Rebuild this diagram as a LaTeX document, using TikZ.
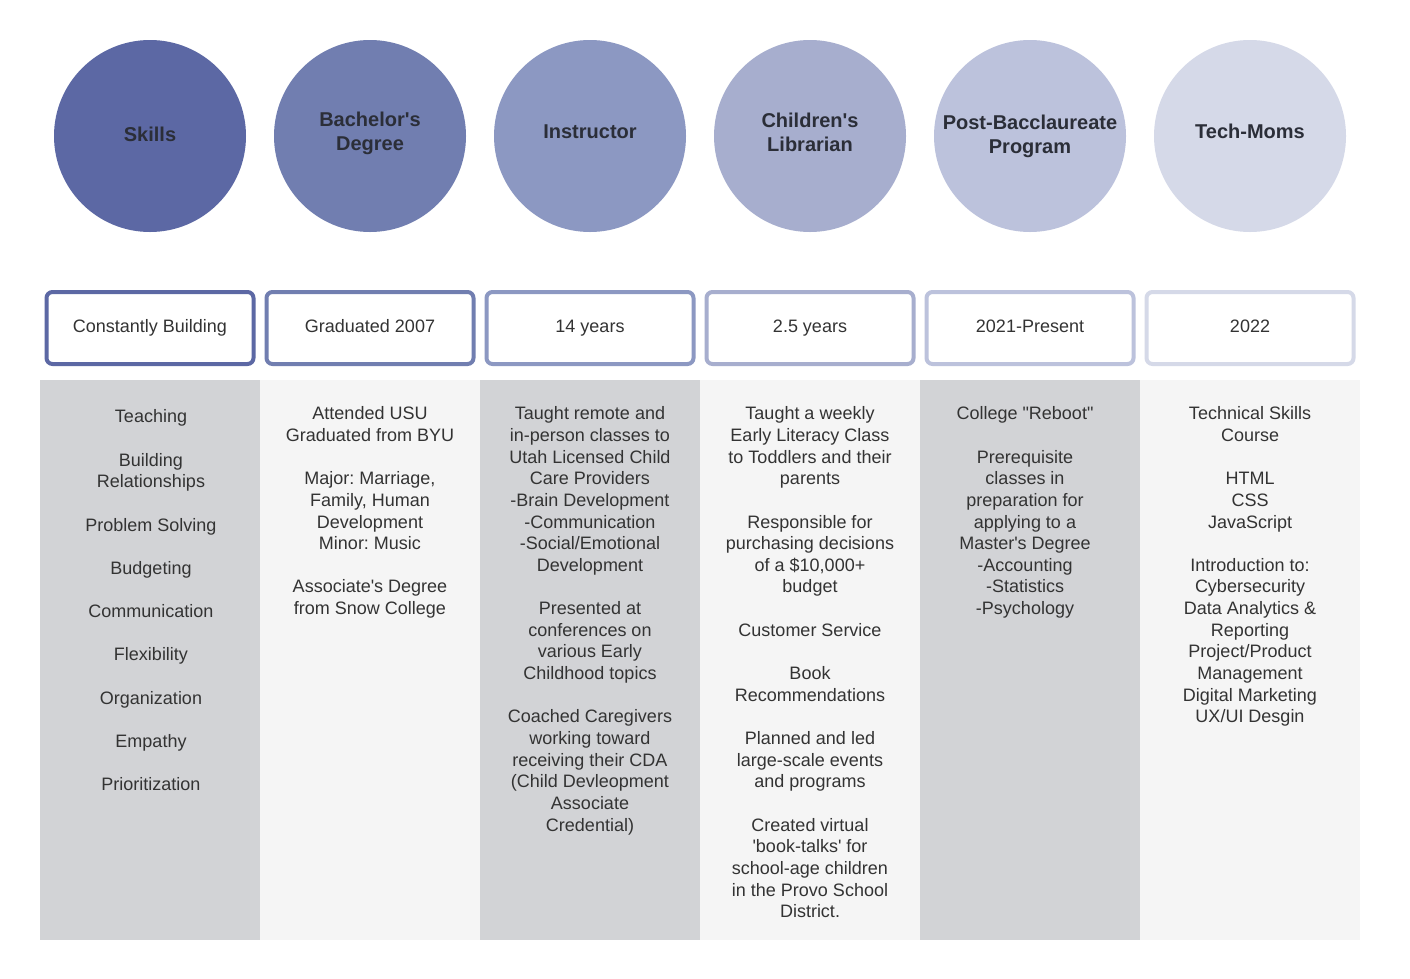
\documentclass[tikz,border=0pt]{standalone}
\usepackage{fontspec}
\setmainfont{Liberation Sans}[Ligatures=TeXOff]
\frenchspacing
\definecolor{cA}{HTML}{5C68A4}
\definecolor{cB}{HTML}{717EB0}
\definecolor{cC}{HTML}{8C98C2}
\definecolor{cD}{HTML}{A7AECE}
\definecolor{cE}{HTML}{BCC2DC}
\definecolor{cF}{HTML}{D5D9E8}
\definecolor{colgray}{HTML}{D2D3D6}
\definecolor{collight}{HTML}{F5F5F5}
\definecolor{titletxt}{HTML}{2B2E38}
\definecolor{bodytxt}{HTML}{333333}
\tikzset{
  bubble/.style={circle, minimum size=192, inner sep=0, draw=none},
  bubbletitle/.style={align=center, inner sep=0, text=titletxt, font=\fontsize{20}{24}\selectfont\bfseries\frenchspacing},
  periodbox/.style={rectangle, draw=#1, line width=4, rounded corners=6, minimum width=207, minimum height=72, fill=white, inner sep=0, text height=13, text depth=5, text=bodytxt, font=\fontsize{18}{21.65}\selectfont\frenchspacing},
  colbg/.style={rectangle, minimum width=220, minimum height=560, inner sep=0, draw=none, anchor=north west},
  coltext/.style={align=center, inner sep=0, anchor=north, text=bodytxt, font=\fontsize{18}{21.65}\selectfont\frenchspacing},
}
\begin{document}
\begin{tikzpicture}[x=1pt,y=-1pt]
\useasboundingbox (0,0) rectangle (1410,978);
\fill[white] (0,0) rectangle (1410,978);
% circles
\node[bubble, fill=cA] (b1) at (150,136) {};
\node[bubble, fill=cB] (b2) at (370,136) {};
\node[bubble, fill=cC] (b3) at (590,136) {};
\node[bubble, fill=cD] (b4) at (810,136) {};
\node[bubble, fill=cE] (b5) at (1030,136) {};
\node[bubble, fill=cF] (b6) at (1250,136) {};
\node[bubbletitle] (t1) at (150,134.5) {Skills};
\node[bubbletitle] (t2) at (370,133.5) {Bachelor's\\Degree};
\node[bubbletitle] (t3) at (590,131.5) {Instructor};
\node[bubbletitle] (t4) at (810,132) {Children's\\Librarian};
\node[bubbletitle] (t5) at (1030,136.5) {Post-Bacclaureate\\Program};
\node[bubbletitle] (t6) at (1250,131.5) {Tech-Moms};
% period boxes
\node[periodbox=cA] (p1) at (150,328) {Constantly Building};
\node[periodbox=cB] (p2) at (370,328) {Graduated 2007};
\node[periodbox=cC] (p3) at (590,328) {14 years};
\node[periodbox=cD] (p4) at (810,328) {2.5 years};
\node[periodbox=cE] (p5) at (1030,328) {2021-Present};
\node[periodbox=cF] (p6) at (1250,328) {2022};
% column backgrounds
\node[colbg, fill=colgray] (g1) at (40,380) {};
\node[colbg, fill=collight] (g2) at (260,380) {};
\node[colbg, fill=colgray] (g3) at (480,380) {};
\node[colbg, fill=collight] (g4) at (700,380) {};
\node[colbg, fill=colgray] (g5) at (920,380) {};
\node[colbg, fill=collight] (g6) at (1140,380) {};
% column texts
\node[coltext] (d1) at (151,409.5) {Teaching\\[21.65pt]Building\\Relationships\\[21.65pt]Problem Solving\\[21.65pt]Budgeting\\[21.65pt]Communication\\[21.65pt]Flexibility\\[21.65pt]Organization\\[21.65pt]Empathy\\[21.65pt]Prioritization};
\node[coltext] (d2) at (370,406.5) {Attended USU\\Graduated from BYU\\[21.65pt]Major: Marriage,\\Family, Human\\Development\\Minor: Music\\[21.65pt]Associate's Degree\\from Snow College};
\node[coltext] (d3) at (590,406.5) {Taught remote and\\in-person classes to\\Utah Licensed Child\\Care Providers\\-Brain Development\\-Communication\\-Social/Emotional\\Development\\[21.65pt]Presented at\\conferences on\\various Early\\Childhood topics\\[21.65pt]Coached Caregivers\\working toward\\receiving their CDA\\(Child Devleopment\\Associate\\Credential)};
\node[coltext] (d4) at (810,406.5) {Taught a weekly\\Early Literacy Class\\to Toddlers and their\\parents\\[21.65pt]Responsible for\\purchasing decisions\\of a \$10,000+\\budget\\[21.65pt]Customer Service\\[21.65pt]Book\\Recommendations\\[21.65pt]Planned and led\\large-scale events\\and programs\\[21.65pt]Created virtual\\'book-talks' for\\school-age children\\in the Provo School\\District.};
\node[coltext] (d5) at (1025,406.5) {College "Reboot"\\[21.65pt]Prerequisite\\classes in\\preparation for\\applying to a\\Master's Degree\\-Accounting\\-Statistics\\-Psychology};
\node[coltext] (d6) at (1250,406.5) {Technical Skills\\Course\\[21.65pt]HTML\\CSS\\JavaScript\\[21.65pt]Introduction to:\\Cybersecurity\\Data Analytics \&\\Reporting\\Project/Product\\Management\\Digital Marketing\\UX/UI Desgin};
\end{tikzpicture}
\end{document}
